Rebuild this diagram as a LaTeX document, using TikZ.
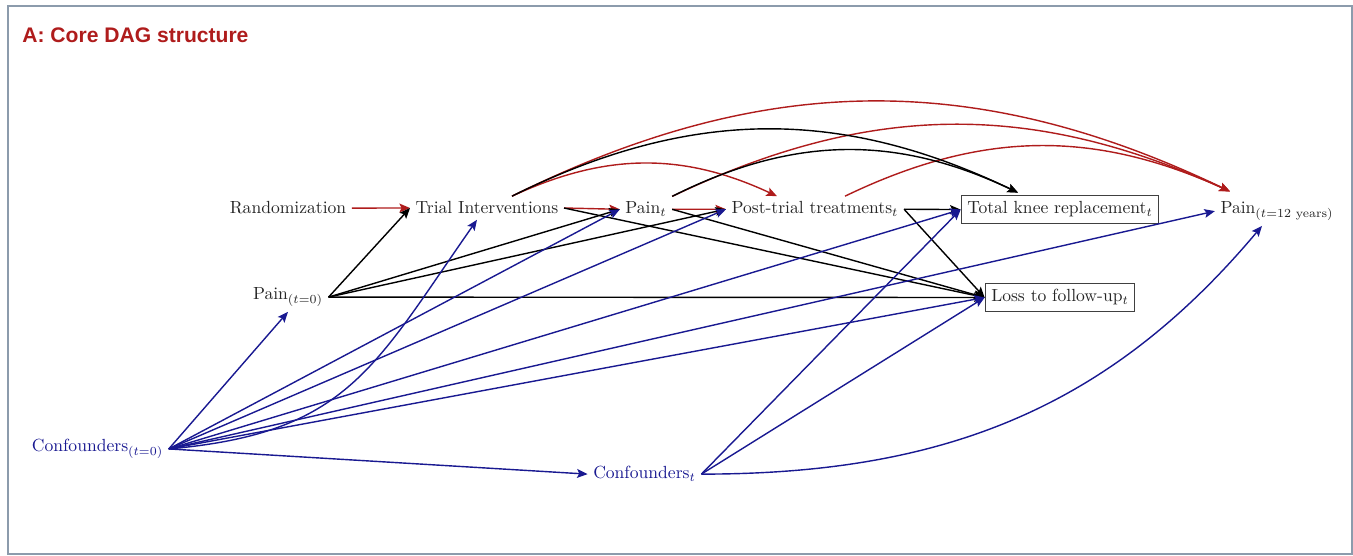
\documentclass[tikz,border=0pt]{standalone}
\usepackage{amsmath}
\usepackage{fontspec}
\newfontfamily\titlefont{Liberation Sans}
\usetikzlibrary{arrows.meta}
\definecolor{dagred}{RGB}{175,28,28}
\definecolor{dagblue}{RGB}{25,25,145}
\definecolor{framegrey}{RGB}{140,155,172}
\tikzset{
  var/.style={inner sep=3pt, anchor=base, text=black!85},
  boxvar/.style={var, draw=black!75, line width=0.6pt, inner sep=3.5pt},
  confvar/.style={var, text=dagblue},
  flow/.style={-{Stealth[length=6pt, width=5pt, inset=1.2pt]}, line width=0.8pt},
  redflow/.style={flow, draw=dagred},
  blkflow/.style={flow, draw=black},
  bluflow/.style={flow, draw=dagblue}
}

\begin{document}
\begin{tikzpicture}
\useasboundingbox (0,0) rectangle (27.06,11.12);

% Frame and title
\draw[framegrey, line width=0.8pt] (0.16,0.04) rectangle (27.04,11.0);
\node[anchor=base west, inner sep=0pt, text=dagred, font=\titlefont\bfseries\large] (title) at (0.44,10.26) {A: Core DAG structure};

% Variables on the main row
\node[var]    (rand) at ( 5.76,6.84) {Randomization};
\node[var]    (ti)   at ( 9.74,6.84) {Trial Interventions};
\node[var]    (pt)   at (12.92,6.84) {Pain$_t$};
\node[var]    (post) at (16.30,6.84) {Post-trial treatments$_t$};
\node[boxvar] (tkr)  at (21.20,6.84) {Total knee replacement$_t$};
\node[var]    (p12)  at (25.54,6.84) {Pain$_{(t=12\text{ years})}$};

% Baseline, censoring and confounders
\node[var]     (p0)   at ( 5.76,5.12) {Pain$_{(t=0)}$};
\node[boxvar]  (loss) at (21.20,5.08) {Loss to follow-up$_t$};
\node[confvar] (c0)   at ( 1.95,2.08) {Confounders$_{(t=0)}$};
\node[confvar] (ct)   at (12.89,1.54) {Confounders$_t$};

% ── Randomised path ──────────────────────────────────────────────
\draw[redflow] (rand.east) -- (ti.west);
\draw[redflow] (ti.east) -- (pt.west);
\draw[redflow] (pt.east) -- (post.west);
\draw[redflow] ([xshift=0.5cm]ti.north) to[bend left=25] ([xshift=-0.76cm]post.north);
\draw[redflow] ([xshift=0.5cm]ti.north) to[bend left=26] ([xshift=0.3cm, yshift=0.1cm]p12.north west);
\draw[redflow] (pt.north east) to[bend left=25] ([xshift=0.3cm, yshift=0.1cm]p12.north west);
\draw[redflow] ([xshift=0.6cm]post.north) to[bend left=25] ([xshift=0.3cm, yshift=0.1cm]p12.north west);

% ── Pain and treatments ──────────────────────────────────────────────
\draw[blkflow] (p0.east) -- (ti.west);
\draw[blkflow] (p0.east) -- (pt.west);
\draw[blkflow] (p0.east) -- (post.west);
\draw[blkflow] (p0.east) -- (loss.west);
\draw[blkflow] (ti.east) -- (loss.west);
\draw[blkflow] (pt.east) -- (loss.west);
\draw[blkflow] (post.east) -- (tkr.west);
\draw[blkflow] (post.east) -- (loss.west);
\draw[blkflow] ([xshift=0.5cm]ti.north) to[bend left=26] ([xshift=-0.84cm, yshift=0.05cm]tkr.north);
\draw[blkflow] (pt.north east) to[bend left=26] ([xshift=-0.84cm, yshift=0.05cm]tkr.north);

% ── Confounders ──────────────────────────────────────────────
\draw[bluflow] (c0.east) -- (p0.south);
\draw[bluflow] (c0.east) to[out=5, in=-125, looseness=1.2] ([xshift=-0.2cm]ti.south);
\draw[bluflow] (c0.east) -- (pt.west);
\draw[bluflow] (c0.east) -- (post.west);
\draw[bluflow] (c0.east) -- (tkr.west);
\draw[bluflow] (c0.east) -- (p12.west);
\draw[bluflow] (c0.east) -- (loss.west);
\draw[bluflow] (c0.east) -- (ct.west);
\draw[bluflow] (ct.east) -- (tkr.west);
\draw[bluflow] (ct.east) -- (loss.west);
\draw[bluflow] (ct.east) to[out=0, in=-130] ([xshift=-0.3cm]p12.south);

\end{tikzpicture}
\end{document}
